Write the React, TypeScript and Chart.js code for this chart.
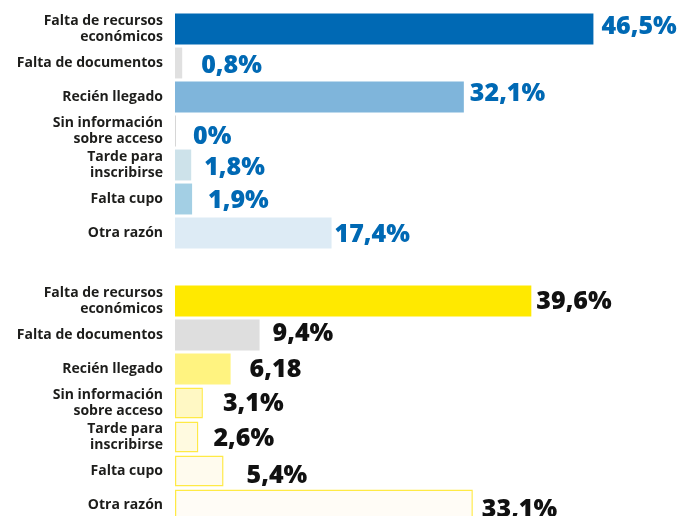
import React, { useEffect, useRef } from "react";
import { Chart, registerables } from "chart.js";

Chart.register(...registerables);

const categories: string[][] = [
  ["Falta de recursos", "económicos"],
  ["Falta de documentos"],
  ["Recién llegado"],
  ["Sin información", "sobre acceso"],
  ["Tarde para", "inscribirse"],
  ["Falta cupo"],
  ["Otra razón"],
];

const topValues: number[] = [46.5, 0.8, 32.1, 0, 1.8, 1.9, 17.4];
const bottomValues: number[] = [39.6, 9.4, 6.18, 3.1, 2.6, 5.4, 33.1];

const topLabels: string[] = ["46,5%", "0,8%", "32,1%", "0%", "1,8%", "1,9%", "17,4%"];
const bottomLabels: string[] = ["39,6%", "9,4%", "6,18", "3,1%", "2,6%", "5,4%", "33,1%"];

const topColors = ["#0069b4", "#e0e0e0", "#7fb5db", "#d6d6d6", "#cde2ea", "#a3cfe4", "#ddebf5"];
const bottomColors = ["#ffe900", "#dedede", "#fff380", "#fff8c4", "#fffae0", "#fffbee", "#fffcf6"];
const bottomBorders = [0, 0, 0, 1.5, 1.5, 1.5, 1.5];

// label nudges (style only)
const topGapX = [8, 19, 6, 17, 13, 16, 3];
const topNudgeY = [-4, 1, -5, 4, 1, -0.5, 0];
const bottomGapX = [5, 13, 19, 20, 15, 23, 9];
const bottomNudgeY = [-1.5, -3, -1.5, -1.5, 0, 3, 3];

export default function App() {
  const ref = useRef<HTMLCanvasElement | null>(null);

  useEffect(() => {
    if (!ref.current) return;
    const labels: (string[] | string)[] = [...categories, "", ...categories];
    const values: (number | null)[] = [...topValues, null, ...bottomValues];
    const bg = [...topColors, "transparent", ...bottomColors];
    const bc = [...topColors, "transparent", ...bottomColors.map((_, i) => (bottomBorders[i] ? "#ffea45" : bottomColors[i]))];
    const bw = [...topColors.map(() => 0), 0, ...bottomBorders];
    const valueLabels = [...topLabels, "", ...bottomLabels];
    const gaps = [...topGapX, 0, ...bottomGapX];
    const nudges = [...topNudgeY, 0, ...bottomNudgeY];
    const textColors = [...topLabels.map(() => "#0069b4"), "#000", ...bottomLabels.map(() => "#111111")];

    const valuePlugin = {
      id: "valueLabels",
      afterDatasetsDraw(chart: any) {
        const ctx = chart.ctx;
        const meta = chart.getDatasetMeta(0);
        ctx.save();
        ctx.font = "800 25px 'Open Sans'";
        ctx.textAlign = "left";
        ctx.textBaseline = "alphabetic";
        meta.data.forEach((bar: any, i: number) => {
          const txt = valueLabels[i];
          if (!txt) return;
          ctx.fillStyle = textColors[i];
          ctx.fillText(txt, bar.x + gaps[i], bar.y + 9 + nudges[i]);
        });
        ctx.restore();
      },
    };

    const chart = new Chart(ref.current, {
      type: "bar",
      data: {
        labels,
        datasets: [
          {
            data: values,
            backgroundColor: bg,
            borderColor: bc,
            borderWidth: bw,
            borderSkipped: false,
            barPercentage: 0.91,
            categoryPercentage: 1,
            minBarLength: 1,
          } as any,
        ],
      },
      options: {
        indexAxis: "y",
        animation: false,
        responsive: false,
        maintainAspectRatio: false,
        layout: { padding: { top: 12, bottom: 0, left: 0, right: 0 } },
        plugins: {
          legend: { display: false },
          tooltip: { enabled: false },
        },
        scales: {
          x: {
            display: false,
            min: 0,
            max: 55.9,
          },
          y: {
            afterFit: (scale: any) => {
              scale.width = 175;
              scale.paddingTop = 0;
              scale.paddingBottom = 0;
              scale.paddingLeft = 0;
              scale.paddingRight = 0;
            },
            grid: { display: false, drawTicks: false },
            border: { display: false },
            ticks: {
              padding: 12,
              color: "#1d1d1b",
              font: { family: "'Open Sans'", weight: "bold", size: 14, lineHeight: 1.1 },
              autoSkip: false,
            },
          },
        },
      },
      plugins: [valuePlugin],
    });
    return () => chart.destroy();
  }, []);

  return (
    <div style={{ position: "absolute", left: 0, top: 0, width: 678, height: 522, background: "#fff" }}>
      <canvas ref={ref} width={678} height={522} style={{ width: 678, height: 522 }} />
    </div>
  );
}
